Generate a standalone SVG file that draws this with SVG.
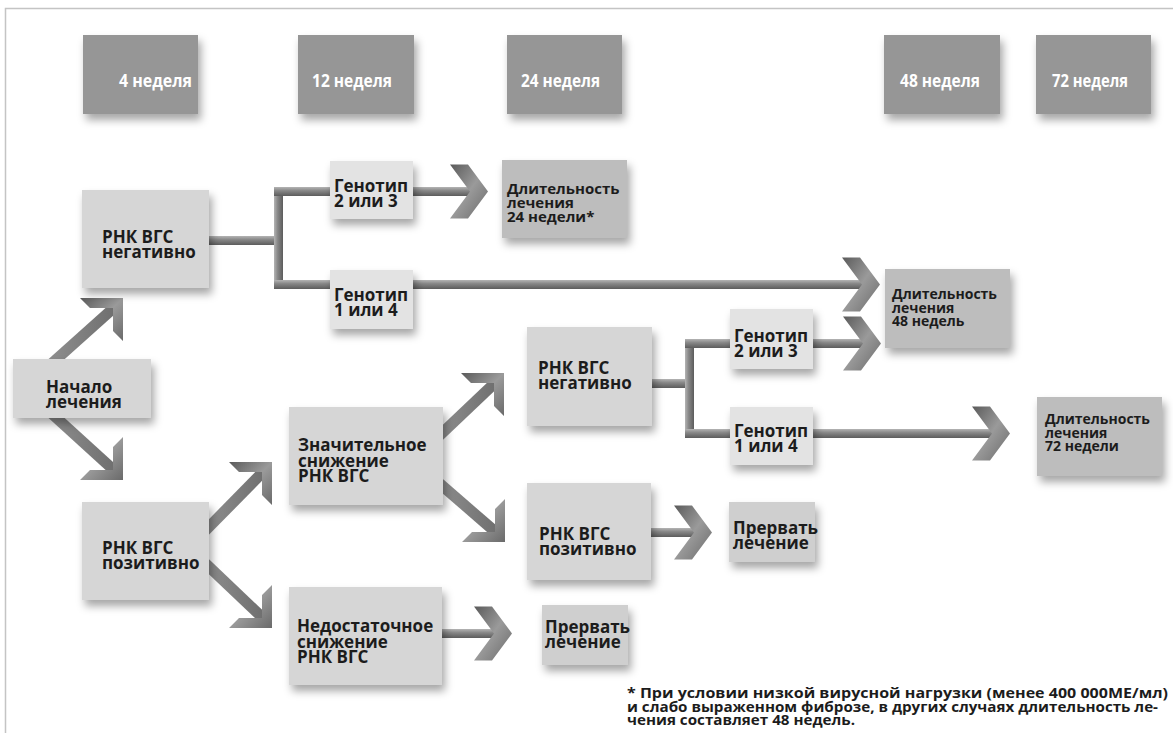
<svg xmlns="http://www.w3.org/2000/svg" width="1173" height="733" viewBox="0 0 1173 733">
<style>
.t{font-family:"Open Sans","Noto Sans","DejaVu Sans",sans-serif;font-weight:700;fill:#1c1c1c;font-size:17px}
.s{font-size:14px}
.m{font-size:15px}
.h{font-family:"Open Sans","Noto Sans","DejaVu Sans",sans-serif;font-weight:700;fill:#ffffff;font-size:18px}
.f{font-family:"Open Sans","Noto Sans","DejaVu Sans",sans-serif;font-weight:700;fill:#1c1c1c;font-size:13.5px}
.hd{fill:#969696;filter:url(#sh)}
.lt{fill:#d6d6d6;filter:url(#sh)}
.gn{fill:#e3e3e3;filter:url(#sh)}
.dk{fill:#bdbdbd;filter:url(#sh)}
.st{fill:#cfcfcf;filter:url(#sh)}
.bh{fill:url(#gH)}
.bv{fill:url(#gV)}
.ch{fill:url(#gC)}
.dg{stroke:url(#gD);stroke-width:11;fill:none}
</style>
<defs>
<filter id="sh" x="-20%" y="-20%" width="150%" height="160%">
<feDropShadow dx="3" dy="6" stdDeviation="4" flood-color="#000" flood-opacity="0.35"/>
</filter>
<linearGradient id="gH" x1="0" y1="0" x2="0" y2="1">
<stop offset="0" stop-color="#b4b4b4"/><stop offset="0.4" stop-color="#888"/><stop offset="1" stop-color="#5c5c5c"/>
</linearGradient>
<linearGradient id="gV" x1="0" y1="0" x2="1" y2="0">
<stop offset="0" stop-color="#b4b4b4"/><stop offset="0.4" stop-color="#888"/><stop offset="1" stop-color="#5c5c5c"/>
</linearGradient>
<linearGradient id="gC" x1="0" y1="0" x2="1" y2="1">
<stop offset="0" stop-color="#5a5a5a"/><stop offset="0.5" stop-color="#9a9a9a"/><stop offset="1" stop-color="#6a6a6a"/>
</linearGradient>
<linearGradient id="gD" x1="0" y1="0" x2="1" y2="0">
<stop offset="0" stop-color="#8e8e8e"/><stop offset="1" stop-color="#6e6e6e"/>
</linearGradient>
<path id="chR" d="M0,0 L-20,-27 L-38,-27 L-18,0 L-38,27 L-20,27 Z"/>
<path id="chUR" d="M0,0 V43 L-10,33 V10 H-33 L-43,0 Z"/>
<path id="chDR" d="M0,0 V-43 L-10,-33 V-10 H-33 L-43,0 Z"/>
</defs>
<rect width="1173" height="733" fill="#ffffff"/>
<path d="M5.5,733 V8.5 H1173" fill="none" stroke="#c4c4c4" stroke-width="1.5"/>

<g id="connectors">
<rect class="bh" x="205" y="236" width="78" height="9"/>
<rect class="bv" x="274" y="187" width="9" height="102"/>
<rect class="bh" x="274" y="187" width="60" height="9"/>
<rect class="bh" x="274" y="280" width="60" height="9"/>
<rect class="bh" x="410" y="187" width="66" height="9"/>
<use href="#chR" class="ch" transform="translate(488,191.5)"/>
<rect class="bh" x="410" y="280" width="458" height="9"/>
<use href="#chR" class="ch" transform="translate(880,284.5)"/>
<rect class="bh" x="648" y="379" width="45" height="9"/>
<rect class="bv" x="685" y="339" width="9" height="99"/>
<rect class="bh" x="685" y="339" width="48" height="9"/>
<rect class="bh" x="685" y="429" width="48" height="9"/>
<rect class="bh" x="810" y="339" width="59" height="9"/>
<use href="#chR" class="ch" transform="translate(881,343.5)"/>
<rect class="bh" x="810" y="429" width="188" height="9"/>
<use href="#chR" class="ch" transform="translate(1010,433.5)"/>
<rect class="bh" x="648" y="528" width="52" height="9"/>
<use href="#chR" class="ch" transform="translate(712,532.5)"/>
<rect class="bh" x="438" y="629" width="62" height="9"/>
<use href="#chR" class="ch" transform="translate(512,633.5)"/>
<line class="dg" x1="50" y1="365" x2="117" y2="305"/>
<use href="#chUR" class="ch" transform="translate(123,298)"/>
<line class="dg" x1="50" y1="412" x2="117" y2="473"/>
<use href="#chDR" class="ch" transform="translate(123,480)"/>
<line class="dg" x1="205" y1="531" x2="266" y2="469"/>
<use href="#chUR" class="ch" transform="translate(272,462)"/>
<line class="dg" x1="205" y1="563" x2="266" y2="621"/>
<use href="#chDR" class="ch" transform="translate(272,628)"/>
<line class="dg" x1="439" y1="436" x2="498" y2="380"/>
<use href="#chUR" class="ch" transform="translate(504,373)"/>
<line class="dg" x1="439" y1="483" x2="499" y2="535"/>
<use href="#chDR" class="ch" transform="translate(505,542)"/>
</g>

<g id="h4"><rect class="hd" x="83" y="35" width="115" height="79"/><text class="h" x="119" y="87" textLength="73" lengthAdjust="spacingAndGlyphs">4 неделя</text></g>
<g id="h12"><rect class="hd" x="298" y="35" width="116" height="79"/><text class="h" x="312" y="87" textLength="80" lengthAdjust="spacingAndGlyphs">12 неделя</text></g>
<g id="h24"><rect class="hd" x="507" y="35" width="115" height="79"/><text class="h" x="521" y="87" textLength="79" lengthAdjust="spacingAndGlyphs">24 неделя</text></g>
<g id="h48"><rect class="hd" x="884" y="35" width="116" height="79"/><text class="h" x="900" y="87" textLength="80" lengthAdjust="spacingAndGlyphs">48 неделя</text></g>
<g id="h72"><rect class="hd" x="1036" y="35" width="115" height="79"/><text class="h" x="1052" y="87" textLength="76" lengthAdjust="spacingAndGlyphs">72 неделя</text></g>

<g id="start"><rect class="lt" x="13" y="359" width="138" height="59"/><text class="t" x="46" y="393">Начало<tspan x="46" dy="15">лечения</tspan></text></g>
<g id="neg1"><rect class="lt" x="82" y="190" width="127" height="98"/><text class="t" x="102" y="243">РНК ВГС<tspan x="102" dy="15">негативно</tspan></text></g>
<g id="g23a"><rect class="gn" x="330" y="161" width="83" height="58"/><text class="t" x="334" y="192">Генотип<tspan x="334" dy="15">2 или 3</tspan></text></g>
<g id="g14a"><rect class="gn" x="330" y="270" width="83" height="59"/><text class="t" x="334" y="301">Генотип<tspan x="334" dy="15">1 или 4</tspan></text></g>
<g id="d24"><rect class="dk" x="502" y="160" width="125" height="78"/><text class="t m" x="507" y="194">Длительность<tspan x="507" dy="14">лечения</tspan><tspan x="507" dy="14">24 недели*</tspan></text></g>
<g id="pos1"><rect class="lt" x="82" y="502" width="127" height="98"/><text class="t" x="102" y="554">РНК ВГС<tspan x="102" dy="15">позитивно</tspan></text></g>
<g id="sig"><rect class="lt" x="289" y="407" width="154" height="98"/><text class="t" x="298" y="451">Значительное<tspan x="298" dy="15.5">снижение</tspan><tspan x="298" dy="15.5">РНК ВГС</tspan></text></g>
<g id="ins"><rect class="lt" x="289" y="587" width="153" height="98"/><text class="t" x="297" y="632">Недостаточное<tspan x="297" dy="15.5">снижение</tspan><tspan x="297" dy="15.5">РНК ВГС</tspan></text></g>
<g id="neg2"><rect class="lt" x="527" y="327" width="125" height="99"/><text class="t" x="538" y="374">РНК ВГС<tspan x="538" dy="15">негативно</tspan></text></g>
<g id="g23b"><rect class="gn" x="730" y="309" width="83" height="60"/><text class="t" x="734" y="342">Генотип<tspan x="734" dy="15">2 или 3</tspan></text></g>
<g id="g14b"><rect class="gn" x="730" y="407" width="83" height="58"/><text class="t" x="734" y="437">Генотип<tspan x="734" dy="15">1 или 4</tspan></text></g>
<g id="d48"><rect class="dk" x="885" y="269" width="125" height="79"/><text class="t s" x="892" y="299">Длительность<tspan x="892" dy="13.5">лечения</tspan><tspan x="892" dy="13.5">48 недель</tspan></text></g>
<g id="d72"><rect class="dk" x="1037" y="397" width="125" height="79"/><text class="t s" x="1045" y="424">Длительность<tspan x="1045" dy="13.5">лечения</tspan><tspan x="1045" dy="13.5">72 недели</tspan></text></g>
<g id="pos2"><rect class="lt" x="527" y="483" width="124" height="97"/><text class="t" x="539" y="540">РНК ВГС<tspan x="539" dy="15">позитивно</tspan></text></g>
<g id="stop1"><rect class="st" x="729" y="502" width="86" height="60"/><text class="t" x="733" y="534">Прервать<tspan x="733" dy="15">лечение</tspan></text></g>
<g id="stop2"><rect class="st" x="542" y="605" width="86" height="60"/><text class="t" x="545" y="633">Прервать<tspan x="545" dy="15">лечение</tspan></text></g>

<g id="footnote">
<text class="f" x="627" y="698"><tspan textLength="541" lengthAdjust="spacingAndGlyphs">* При условии низкой вирусной нагрузки (менее 400 000МЕ/мл)</tspan><tspan x="627" dy="13.5" textLength="531" lengthAdjust="spacingAndGlyphs">и слабо выраженном фиброзе, в других случаях длительность ле-</tspan><tspan x="627" dy="13.5" textLength="228" lengthAdjust="spacingAndGlyphs">чения составляет 48 недель.</tspan></text>
</g>
</svg>
